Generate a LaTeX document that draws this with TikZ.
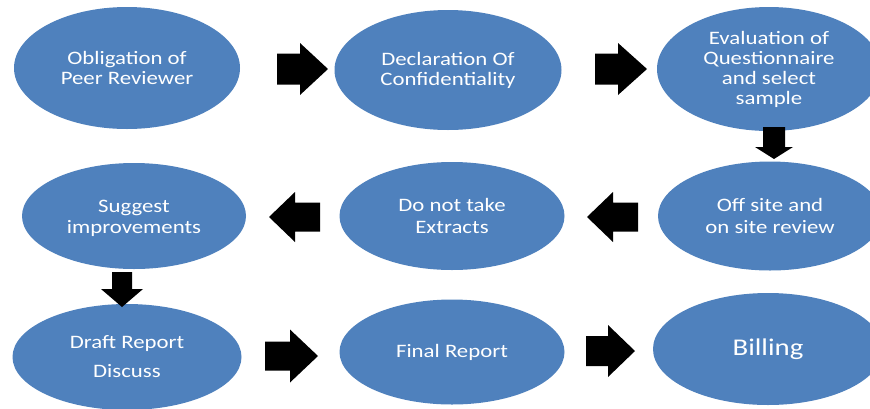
\documentclass[tikz,border=0pt]{standalone}
\usepackage{fontspec}
\setmainfont{Carlito}[FakeStretch=1.2]
\usetikzlibrary{shapes.geometric}
\definecolor{ovalblue}{HTML}{4F81BD}
\tikzset{
  bubbletext/.style={text=white, align=center, font=\fontsize{19}{20}\selectfont},
  bubble/.style={ellipse, fill=ovalblue, draw=none, inner sep=0pt, bubbletext},
  % block arrow drawn from its tail: head base, tip, half shaft, half head
  pics/blockarrow/.style args={#1/#2/#3/#4}{code={
    \fill[black] (0,-#3) -- (#1,-#3) -- (#1,-#4) -- (#2,0) -- (#1,#4)
      -- (#1,#3) -- (0,#3) -- cycle;}}
}
\begin{document}
\begin{tikzpicture}[x=1pt,y=-1pt]
\clip (0,0) rectangle (870,408);
\fill[white] (0,0) rectangle (870,408);

% first row
\node[bubble, minimum width=226pt, minimum height=122pt] (oblig) at (127,68)
  {Obligation of\\Peer Reviewer};
\node[bubble, minimum width=227pt, minimum height=120pt] (decl) at (448,70)
  {Declaration Of\\Confidentiality};
\node[bubble, minimum width=224pt, minimum height=124pt] (eval) at (769,69)
  {Evaluation of\\Questionnaire\\and select\\sample};

% second row
\node[bubble, minimum width=224pt, minimum height=109pt,
  font=\fontsize{19}{22}\selectfont] (site) at (770,216)
  {Off site and\\on site review};
\node[bubble, minimum width=225pt, minimum height=108pt,
  font=\fontsize{19}{22}\selectfont] (extr) at (452,216)
  {Do not take\\Extracts};
\node[bubble, minimum width=224pt, minimum height=106pt,
  label={[bubbletext, font=\fontsize{19}{21}\selectfont, yshift=-2pt]center:{Suggest\\improvements}}]
  (sugg) at (134,216) {};

% third row
\node[bubble, minimum width=229pt, minimum height=106pt] (draft) at (127,357)
  {Draft Report\\[9pt]Discuss};
\node[bubble, minimum width=225pt, minimum height=105pt] (final) at (452,352)
  {Final Report};
\node[bubble, minimum width=230pt, minimum height=112pt,
  font=\fontsize{24}{28}\selectfont] (bill) at (768,349)
  {Billing};

% block arrows between the steps
\pic at (277,69) {blockarrow={23/51/15.5/26}};
\pic at (595,69) {blockarrow={23/52/15.5/26}};
\pic[rotate=-90] at (774,127) {blockarrow={20/32/11/19}};
\pic[rotate=180] at (638,217) {blockarrow={25/51/14.5/25}};
\pic[rotate=180] at (320,217) {blockarrow={25/51/14.5/25}};
\pic[rotate=-90] at (122,272) {blockarrow={17/35/10/21}};
\pic at (265,356) {blockarrow={25/53/14.5/26.5}};
\pic at (586,351) {blockarrow={22/49/15/26}};
\end{tikzpicture}
\end{document}
